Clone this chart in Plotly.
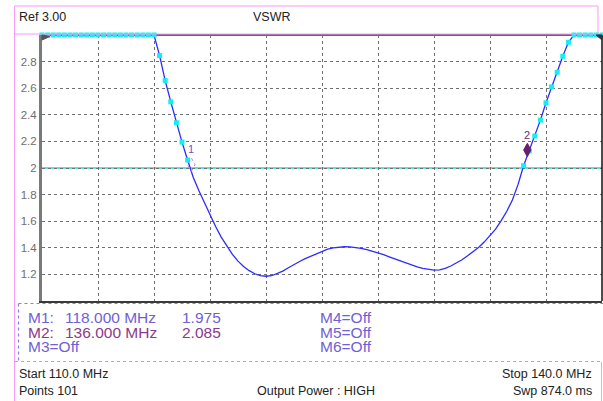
import plotly.graph_objects as go

# ---------------- data ----------------
start_mhz = 110.0
stop_mhz = 140.0
n_points = 101
freq_step = (stop_mhz - start_mhz) / (n_points - 1)
freqs = [start_mhz + i * freq_step for i in range(n_points)]

vswr = [3.0] * 21 + [
    2.845, 2.657, 2.497, 2.34, 2.195, 2.06, 1.93, 1.83, 1.74, 1.645,
    1.56, 1.48, 1.41, 1.35, 1.30, 1.26, 1.228, 1.205, 1.19, 1.186,
    1.19, 1.205, 1.225, 1.25, 1.275, 1.297, 1.318, 1.337, 1.356, 1.375,
    1.39, 1.40, 1.406, 1.408, 1.407, 1.402, 1.395, 1.386, 1.374, 1.362,
    1.348, 1.332, 1.316, 1.30, 1.285, 1.27, 1.256, 1.245, 1.237, 1.232,
    1.234, 1.245, 1.263, 1.285, 1.31, 1.34, 1.37, 1.405, 1.445, 1.49,
    1.54, 1.605, 1.675, 1.76, 1.875, 2.017, 2.13, 2.24, 2.36, 2.49,
    2.61, 2.72, 2.84, 2.945,
] + [3.0] * 6

limit_value = 2.0
ref_level = 3.0
y_bottom = 1.0
y_ticks = [1.2, 1.4, 1.6, 1.8, 2.0, 2.2, 2.4, 2.6, 2.8]
y_ticktext = ["1.2", "1.4", "1.6", "1.8", "2", "2.2", "2.4", "2.6", "2.8"]
x_grid = [113, 116, 119, 122, 125, 128, 131, 134, 137]

marker_names = ["M1", "M2"]
marker_freqs = [118.000, 136.000]
marker_values = [1.975, 2.085]
off_markers = ["M3=Off", "M4=Off", "M5=Off", "M6=Off"]

header_left = "Ref 3.00"
header_mid = "VSWR"
footer_start = "Start 110.0 MHz"
footer_stop = "Stop 140.0 MHz"
footer_points = "Points 101"
footer_power = "Output Power : HIGH"
footer_sweep = "Swp 874.0 ms"

# ---------------- geometry helpers ----------------
W, H = 603, 401
L, R, T, B = 42, 1, 35, 100
PW, PH = W - L - R, H - T - B


def PX(x):
    return (x - L) / PW


def PY(y):
    return (H - B - y) / PH


FONT = "Liberation Sans"
C_M1 = "#6f5fd6"
C_M2 = "#8b3a8b"

fig = go.Figure()

# trace line
fig.add_trace(go.Scatter(
    x=freqs, y=vswr, mode="lines",
    line=dict(color="#2b2bff", width=1.3),
    hoverinfo="skip", showlegend=False, cliponaxis=False,
))

# limit-fail markers (points above the limit line)
fail_x = [f for f, v in zip(freqs, vswr) if v > limit_value]
fail_y = [v for v in vswr if v > limit_value]
fig.add_trace(go.Scatter(
    x=fail_x, y=fail_y, mode="markers",
    marker=dict(symbol="square", size=5, color="#12eef2", line=dict(width=0)),
    hoverinfo="skip", showlegend=False, cliponaxis=False,
))

shapes = []
# limit line
shapes.append(dict(type="line", xref="x", yref="y", x0=start_mhz, x1=stop_mhz,
                   y0=limit_value, y1=limit_value,
                   line=dict(color="#00e6f0", width=1.5), layer="below"))

# header box and frame
pink = "#f59af5"
shapes.append(dict(type="rect", xref="paper", yref="paper",
                   x0=PX(14.5), x1=PX(598), y0=PY(34), y1=PY(6),
                   line=dict(color=pink, width=1)))
shapes.append(dict(type="line", xref="paper", yref="paper",
                   x0=PX(14.5), x1=PX(14.5), y0=PY(34), y1=PY(401),
                   line=dict(color=pink, width=1)))
shapes.append(dict(type="line", xref="paper", yref="paper",
                   x0=PX(601.5), x1=PX(601.5), y0=PY(362), y1=PY(401),
                   line=dict(color=pink, width=1)))
# plot top border
shapes.append(dict(type="line", xref="paper", yref="paper",
                   x0=0, x1=1, y0=1, y1=1,
                   line=dict(color="#7d577d", width=2), layer="below"))
# right border
shapes.append(dict(type="line", xref="paper", yref="paper",
                   x0=1, x1=1, y0=0, y1=1,
                   line=dict(color="#111111", width=1.5)))
# marker panel dotted box
shapes.append(dict(type="line", xref="paper", yref="paper",
                   x0=PX(18.5), x1=PX(603), y0=PY(303.5), y1=PY(303.5),
                   line=dict(color="#8a7cf2", width=1.2, dash="dot")))
shapes.append(dict(type="line", xref="paper", yref="paper",
                   x0=PX(18.5), x1=PX(18.5), y0=PY(303.5), y1=PY(361),
                   line=dict(color="#8a7cf2", width=1.2, dash="dot")))
shapes.append(dict(type="line", xref="paper", yref="paper",
                   x0=PX(15), x1=PX(601), y0=PY(361.5), y1=PY(361.5),
                   line=dict(color="#d98ef0", width=1.2, dash="dot")))
# reference level indicators
shapes.append(dict(type="path", xref="paper", yref="paper",
                   path=f"M {PX(42)},{PY(35)} L {PX(50)},{PY(36.5)} L {PX(42)},{PY(40)} Z",
                   fillcolor="#555555", line=dict(color="#555555", width=1)))
shapes.append(dict(type="path", xref="paper", yref="paper",
                   path=f"M {PX(596)},{PY(35)} L {PX(602)},{PY(35)} L {PX(602)},{PY(40)} Z",
                   fillcolor="#333333", line=dict(color="#333333", width=1)))

# marker diamonds (pixel-sized, anchored on the marker data point)
diamond = "M 0,0 L 3.7,6.7 L 0,13.4 L -3.7,6.7 Z"
shapes.append(dict(type="path", xref="x", yref="y", xsizemode="pixel", ysizemode="pixel",
                   xanchor=marker_freqs[0], yanchor=marker_values[0], path=diamond,
                   line=dict(color="#a58ad8", width=1, dash="dot")))
shapes.append(dict(type="path", xref="x", yref="y", xsizemode="pixel", ysizemode="pixel",
                   xanchor=marker_freqs[1], yanchor=marker_values[1], path=diamond,
                   fillcolor="#6b1f6b", line=dict(color="#6b1f6b", width=1)))

annotations = []


def txt(x, y, s, color="#222222", size=12.5, anchor="left"):
    annotations.append(dict(xref="paper", yref="paper", x=PX(x), y=PY(y), text=s,
                            showarrow=False, xanchor=anchor, yanchor="middle",
                            font=dict(family=FONT, size=size, color=color)))


txt(17, 17, header_left, size=12.5)
txt(251, 17, header_mid, size=12.5)

# marker labels on trace
annotations.append(dict(xref="x", yref="y", x=marker_freqs[0], y=marker_values[0], text="1",
                        showarrow=False, yshift=22, xanchor="center", yanchor="middle",
                        font=dict(family=FONT, size=11, color="#7a4fc0")))
annotations.append(dict(xref="x", yref="y", x=marker_freqs[1], y=marker_values[1], text="2",
                        showarrow=False, yshift=22, xanchor="center", yanchor="middle",
                        font=dict(family=FONT, size=11, color="#6b2a6b")))

# marker panel
row_y = [317.5, 332, 346.5]
colors = [C_M1, C_M2]
for i in range(2):
    txt(26, row_y[i], marker_names[i] + ":", colors[i], 15.5)
    txt(63, row_y[i], f"{marker_freqs[i]:.3f} MHz", colors[i], 15.5)
    txt(180, row_y[i], f"{marker_values[i]:.3f}", colors[i], 15.5)
txt(26, row_y[2], off_markers[0], C_M1, 15.5)
for j in range(3):
    txt(318, row_y[j], off_markers[j + 1], C_M1, 15.5)

# footer
txt(17, 373.5, footer_start)
txt(17, 391, footer_points)
txt(255, 391, footer_power)
txt(594, 373.5, footer_stop, anchor="right")
txt(594, 391, footer_sweep, anchor="right")

fig.update_layout(
    width=W, height=H,
    margin=dict(l=L, r=R, t=T, b=B, pad=0),
    paper_bgcolor="white", plot_bgcolor="white",
    showlegend=False,
    shapes=shapes, annotations=annotations,
    xaxis=dict(range=[start_mhz, stop_mhz], tickvals=x_grid, showticklabels=False,
               ticks="", showgrid=True, gridcolor="#707070", griddash="dot", gridwidth=1,
               zeroline=False, showline=True, linecolor="#3a3a3a", linewidth=2,
               fixedrange=True),
    yaxis=dict(range=[y_bottom, ref_level], tickvals=y_ticks, ticktext=y_ticktext,
               ticks="", showgrid=True, gridcolor="#707070", griddash="dot", gridwidth=1,
               zeroline=False, showline=True, linecolor="#7a7a7a", linewidth=3,
               tickfont=dict(family=FONT, size=11.5, color="#6e6e6e"),
               fixedrange=True),
)

fig.write_html(
    "out.html",
    config={"displayModeBar": False},
    post_script="document.body.style.margin='0';document.body.style.overflow='hidden';",
)
